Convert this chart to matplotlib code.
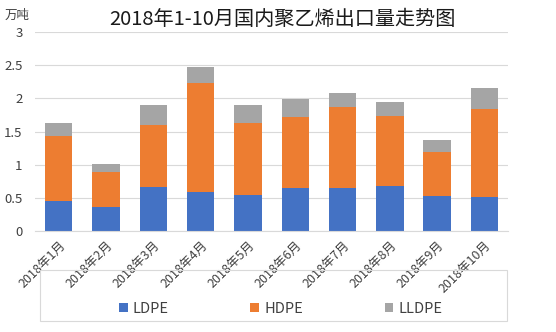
import matplotlib
matplotlib.use("Agg")
import matplotlib.pyplot as plt
from matplotlib.patches import Rectangle
import numpy as np

plt.rcParams['font.family'] = ['Noto Sans CJK SC', 'DejaVu Sans']

months = ['2018年1月', '2018年2月', '2018年3月', '2018年4月', '2018年5月',
          '2018年6月', '2018年7月', '2018年8月', '2018年9月', '2018年10月']
ldpe = [0.46, 0.36, 0.67, 0.59, 0.55, 0.65, 0.65, 0.69, 0.53, 0.51]
hdpe = [0.97, 0.53, 0.93, 1.64, 1.08, 1.07, 1.22, 1.05, 0.67, 1.33]
lldpe = [0.20, 0.12, 0.30, 0.24, 0.27, 0.27, 0.21, 0.21, 0.18, 0.32]

colors = ['#4472C4', '#ED7D31', '#A5A5A5']

fig = plt.figure(figsize=(5.56, 3.32), dpi=100)
ax = fig.add_axes([0.063, 0.303, 0.851, 0.601])

x = np.arange(len(months))
w = 0.58
ldpe_a = np.array(ldpe)
hdpe_a = np.array(hdpe)
b1 = ax.bar(x, ldpe_a, w, color=colors[0], label='LDPE', zorder=2)
b2 = ax.bar(x, hdpe_a, w, bottom=ldpe_a, color=colors[1], label='HDPE', zorder=2)
b3 = ax.bar(x, lldpe, w, bottom=ldpe_a + hdpe_a, color=colors[2], label='LLDPE', zorder=2)

ax.set_xlim(-0.5, len(months) - 0.5)
ax.set_ylim(0, 3)
ax.set_yticks([0, 0.5, 1, 1.5, 2, 2.5, 3])
ax.set_yticklabels(['0', '0.5', '1', '1.5', '2', '2.5', '3'], fontsize=9.5, color='#404040')
ax.yaxis.grid(True, color='#d9d9d9', linewidth=0.8, zorder=0)
ax.set_xticks(x)
ax.set_xticklabels(months, rotation=45, ha='right', rotation_mode='anchor',
                   fontsize=9, color='#404040')
ax.tick_params(axis='y', length=0, pad=9)
ax.tick_params(axis='x', length=0, pad=5)
for s in ['top', 'right', 'left']:
    ax.spines[s].set_visible(False)
ax.spines['bottom'].set_color('#d9d9d9')

fig.text(0.507, 0.94, '2018年1-10月国内聚乙烯出口量走势图', ha='center', va='center',
         fontsize=14.5, fontweight='medium', color='#1a1a1a')
fig.text(0.008, 0.955, '万吨', ha='left', va='center', fontsize=9, color='#404040')

# legend box
fig.patches.append(Rectangle((40 / 556, 1 - 321 / 332), 467 / 556, 51 / 332,
                             transform=fig.transFigure, fill=False,
                             edgecolor='#d9d9d9', linewidth=0.8))
fig.legend(handles=[b1, b2, b3], labels=['LDPE', 'HDPE', 'LLDPE'], ncol=3,
           loc='center', bbox_to_anchor=(0.505, 1 - 309 / 332), frameon=False,
           fontsize=10.5, handlelength=0.6, handleheight=0.6, handletextpad=0.35,
           columnspacing=5.6, labelcolor='#404040')

fig.savefig('out.png', dpi=100)
